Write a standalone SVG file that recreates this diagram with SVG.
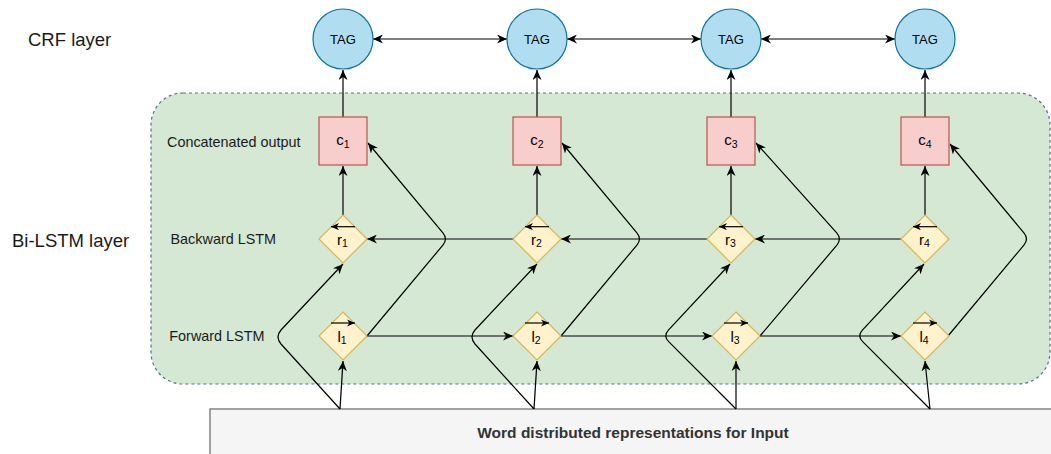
<svg xmlns="http://www.w3.org/2000/svg" width="1051" height="454" viewBox="0 0 1051 454">
<style>
.lbl{font-family:"Liberation Sans",Arial,sans-serif;fill:#1a1a1a}
.big{font-size:18.5px}
.mid{font-size:14.4px}
.tag{fill:#b1ddf0;stroke:#10739e;stroke-width:1.2}
.cbox{fill:#f8cecc;stroke:#b85450;stroke-width:1.2}
.dia{fill:#fff2cc;stroke:#d6b656;stroke-width:1.2}
.edge{fill:none;stroke:#000;stroke-width:1.2}
.sym{font-family:"Liberation Sans",Arial,sans-serif;fill:#000;text-anchor:middle;font-size:15px}
.sub{font-size:10.5px}
.tagt{font-family:"Liberation Sans",Arial,sans-serif;font-size:13px;fill:#000;text-anchor:middle}
</style>
<defs>
<marker id="arr" markerUnits="userSpaceOnUse" viewBox="0 0 10 9" markerWidth="10" markerHeight="9" refX="10" refY="4.5" orient="auto-start-reverse">
<path d="M0,0 L10,4.5 L0,9 L3,4.5 Z" fill="#000"/>
</marker>
<marker id="sarr" markerUnits="userSpaceOnUse" viewBox="0 0 10 9" markerWidth="8" markerHeight="7.2" refX="10" refY="4.5" orient="auto">
<path d="M0,0 L10,4.5 L0,9 L3,4.5 Z" fill="#000"/>
</marker>
</defs>
<rect width="1051" height="454" fill="#fff"/>

<g id="container">
<rect x="151" y="93" width="899" height="291" rx="32" ry="32" fill="#d5e8d4" stroke="#56708a" stroke-width="1.2" stroke-dasharray="3 3"/>
</g>

<g id="input">
<rect x="210" y="409" width="850" height="60" fill="#f5f5f5" stroke="#666" stroke-width="1.2"/>
<text x="633" y="438" text-anchor="middle" font-family="'Liberation Sans',Arial,sans-serif" font-weight="bold" font-size="15.5" fill="#333">Word distributed representations for Input</text>
</g>

<g id="labels">
<text class="lbl big" x="28" y="46">CRF layer</text>
<text class="lbl big" x="12" y="246.7">Bi-LSTM layer</text>
<text class="lbl mid" x="167" y="146.5">Concatenated output</text>
<text class="lbl mid" x="170.5" y="244.3">Backward LSTM</text>
<text class="lbl mid" x="169.3" y="340.7">Forward LSTM</text>
</g>

<g id="connectors">
<line class="edge" x1="373" y1="39" x2="507" y2="39" marker-start="url(#arr)" marker-end="url(#arr)"/>
<line class="edge" x1="567" y1="39" x2="701" y2="39" marker-start="url(#arr)" marker-end="url(#arr)"/>
<line class="edge" x1="761" y1="39" x2="895" y2="39" marker-start="url(#arr)" marker-end="url(#arr)"/>
<line class="edge" x1="343" y1="117" x2="343" y2="70" marker-end="url(#arr)"/>
<line class="edge" x1="537" y1="117" x2="537" y2="70" marker-end="url(#arr)"/>
<line class="edge" x1="731" y1="117" x2="731" y2="70" marker-end="url(#arr)"/>
<line class="edge" x1="925" y1="117" x2="925" y2="70" marker-end="url(#arr)"/>
<line class="edge" x1="343" y1="215" x2="343" y2="166" marker-end="url(#arr)"/>
<line class="edge" x1="537" y1="215" x2="537" y2="166" marker-end="url(#arr)"/>
<line class="edge" x1="731" y1="215" x2="731" y2="166" marker-end="url(#arr)"/>
<line class="edge" x1="925" y1="215" x2="925" y2="166" marker-end="url(#arr)"/>
<line class="edge" x1="513" y1="239" x2="367" y2="239" marker-end="url(#arr)"/>
<line class="edge" x1="707" y1="239" x2="561" y2="239" marker-end="url(#arr)"/>
<line class="edge" x1="901" y1="239" x2="755" y2="239" marker-end="url(#arr)"/>
<line class="edge" x1="367" y1="336" x2="513" y2="336" marker-end="url(#arr)"/>
<line class="edge" x1="561" y1="336" x2="712" y2="336" marker-end="url(#arr)"/>
<line class="edge" x1="760" y1="336" x2="901" y2="336" marker-end="url(#arr)"/>
<path class="edge" d="M367,336 L442.9,245.1 Q448,239 442.9,232.9 L368,143" marker-end="url(#arr)"/>
<path class="edge" d="M561,336 L636.9,245.1 Q642,239 636.9,232.9 L562,143" marker-end="url(#arr)"/>
<path class="edge" d="M760,336 L836.9,245.1 Q842,239 836.7,232.9 L756,143" marker-end="url(#arr)"/>
<path class="edge" d="M948,336 L1023.9,245.1 Q1029,239 1023.9,232.9 L950,144" marker-end="url(#arr)"/>
<path class="edge" d="M340,409 L281,344 Q275,337 281,330 L343,264" marker-end="url(#arr)"/>
<path class="edge" d="M534,409 L475,344 Q469,337 475,330 L537,264" marker-end="url(#arr)"/>
<path class="edge" d="M736,409 L668.7,341.7 Q663,336 668.4,330.2 L730,264" marker-end="url(#arr)"/>
<path class="edge" d="M930,409 L862.7,341.7 Q857,336 862.4,330.2 L924,264" marker-end="url(#arr)"/>
<line class="edge" x1="340" y1="409" x2="343" y2="361" marker-end="url(#arr)"/>
<line class="edge" x1="534" y1="409" x2="537" y2="361" marker-end="url(#arr)"/>
<line class="edge" x1="736" y1="409" x2="736" y2="361" marker-end="url(#arr)"/>
<line class="edge" x1="930" y1="409" x2="925" y2="361" marker-end="url(#arr)"/>
</g>

<g id="tag1"><circle class="tag" cx="343" cy="39" r="30"/><text class="tagt" x="343" y="43.5">TAG</text></g>
<g id="tag2"><circle class="tag" cx="537" cy="39" r="30"/><text class="tagt" x="537" y="43.5">TAG</text></g>
<g id="tag3"><circle class="tag" cx="731" cy="39" r="30"/><text class="tagt" x="731" y="43.5">TAG</text></g>
<g id="tag4"><circle class="tag" cx="925" cy="39" r="30"/><text class="tagt" x="925" y="43.5">TAG</text></g>

<g id="c1"><rect class="cbox" x="319" y="117" width="48" height="48"/><text class="sym" x="343" y="145.3">c<tspan class="sub" dy="3">1</tspan></text></g>
<g id="c2"><rect class="cbox" x="513" y="117" width="48" height="48"/><text class="sym" x="537" y="145.3">c<tspan class="sub" dy="3">2</tspan></text></g>
<g id="c3"><rect class="cbox" x="707" y="117" width="48" height="48"/><text class="sym" x="731" y="145.3">c<tspan class="sub" dy="3">3</tspan></text></g>
<g id="c4"><rect class="cbox" x="901" y="117" width="48" height="48"/><text class="sym" x="925" y="145.3">c<tspan class="sub" dy="3">4</tspan></text></g>

<g id="r1"><polygon class="dia" points="343,215 367,239 343,263 319,239"/><line class="edge" x1="355" y1="226.7" x2="331" y2="226.7" marker-end="url(#sarr)"/><text class="sym" x="342.5" y="244.7">r<tspan class="sub" dy="2">1</tspan></text></g>
<g id="r2"><polygon class="dia" points="537,215 561,239 537,263 513,239"/><line class="edge" x1="549" y1="226.7" x2="525" y2="226.7" marker-end="url(#sarr)"/><text class="sym" x="536.5" y="244.7">r<tspan class="sub" dy="2">2</tspan></text></g>
<g id="r3"><polygon class="dia" points="731,215 755,239 731,263 707,239"/><line class="edge" x1="743" y1="226.7" x2="719" y2="226.7" marker-end="url(#sarr)"/><text class="sym" x="730.5" y="244.7">r<tspan class="sub" dy="2">3</tspan></text></g>
<g id="r4"><polygon class="dia" points="925,215 949,239 925,263 901,239"/><line class="edge" x1="937" y1="226.7" x2="913" y2="226.7" marker-end="url(#sarr)"/><text class="sym" x="924.5" y="244.7">r<tspan class="sub" dy="2">4</tspan></text></g>

<g id="l1"><polygon class="dia" points="343,312 367,336 343,360 319,336"/><line class="edge" x1="331" y1="323" x2="355" y2="323" marker-end="url(#sarr)"/><text class="sym" x="342" y="342">l<tspan class="sub" dy="1.5">1</tspan></text></g>
<g id="l2"><polygon class="dia" points="537,312 561,336 537,360 513,336"/><line class="edge" x1="525" y1="323" x2="549" y2="323" marker-end="url(#sarr)"/><text class="sym" x="536" y="342">l<tspan class="sub" dy="1.5">2</tspan></text></g>
<g id="l3"><polygon class="dia" points="736,312 760,336 736,360 712,336"/><line class="edge" x1="724" y1="323" x2="748" y2="323" marker-end="url(#sarr)"/><text class="sym" x="735" y="342">l<tspan class="sub" dy="1.5">3</tspan></text></g>
<g id="l4"><polygon class="dia" points="925,312 949,336 925,360 901,336"/><line class="edge" x1="913" y1="323" x2="937" y2="323" marker-end="url(#sarr)"/><text class="sym" x="924" y="342">l<tspan class="sub" dy="1.5">4</tspan></text></g>
</svg>
